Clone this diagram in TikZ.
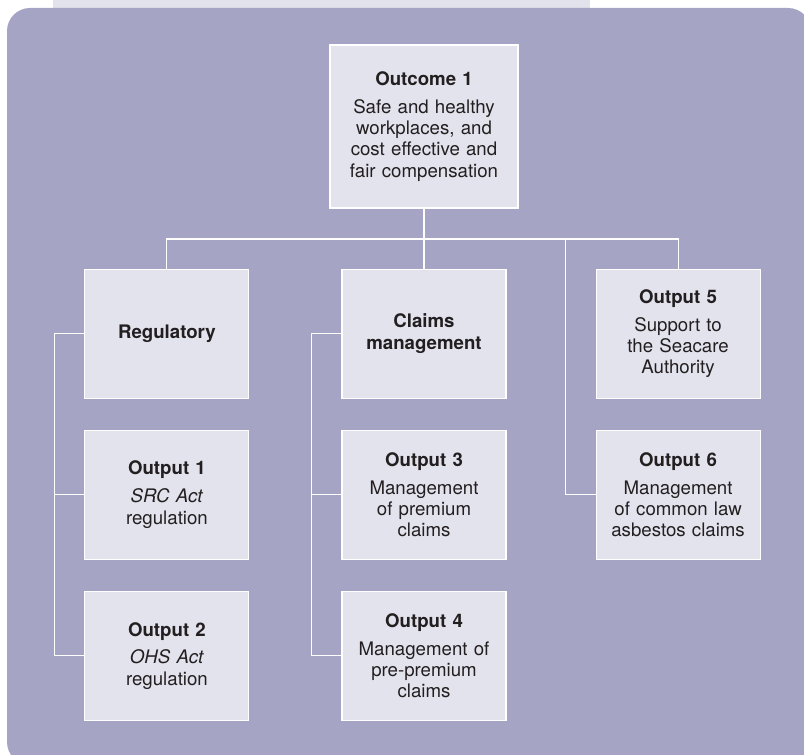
\documentclass[tikz,border=0pt]{standalone}
\usepackage{fontspec}
\setmainfont{TeX Gyre Heros}
\usetikzlibrary{positioning}
\definecolor{panel}{HTML}{A5A4C5}
\definecolor{boxfill}{HTML}{E3E3EE}
\definecolor{tabfill}{HTML}{E2E2EC}
\definecolor{ink}{HTML}{231F20}

\begin{document}
\begin{tikzpicture}[x=0.75pt,y=-0.75pt,node distance=23.25pt,
  box/.style={rectangle,fill=boxfill,draw=white,line width=0.8pt,text=ink,align=center,
    minimum width=123pt,minimum height=96.75pt,text width=119pt,inner sep=0pt,
    font=\fontsize{14}{15.9}\selectfont},
  big box/.style={box,minimum width=141pt,minimum height=122.25pt,text width=137pt}]
  \tikzset{link/.style={draw=white,line width=0.8pt}}
  \useasboundingbox (0,0) rectangle (804,755);
  % backdrop
  \fill[tabfill] (53,-5) rectangle (590,20);
  \fill[panel,rounded corners=17.25pt] (7,8) rectangle (811,765);

  \node[big box] (outcome) at (424,126.5) {\textbf{Outcome 1}\\[5pt]Safe and healthy\\workplaces, and\\cost effective and\\fair compensation};
  \node[box] (claims) [below=45pt of outcome] {\textbf{Claims}\\\textbf{management}};
  \node[box] (reg) [left=69pt of claims] {\textbf{Regulatory}};
  \node[box] (out5) [right=66.75pt of claims] {\textbf{Output 5}\\[5pt]Support to\\the Seacare\\Authority};
  \node[box] (out1) [below=of reg] {\textbf{Output 1}\\[5pt]\textit{SRC Act}\\regulation};
  \node[box] (out2) [below=of out1] {\textbf{Output 2}\\[5pt]\textit{OHS Act}\\regulation};
  \node[box] (out3) [below=of claims] {\textbf{Output 3}\\[5pt]Management\\of premium\\claims};
  \node[box] (out4) [below=of out3] {\textbf{Output 4}\\[5pt]Management of\\pre-premium\\claims};
  \node[box] (out6) [below=of out5] {\textbf{Output 6}\\[5pt]Management\\of common law\\asbestos claims};

  \coordinate (bar) at (424,239);
  \path[link] (outcome) -- (claims)
    (reg) |- (bar) -| (out5)
    (reg.west) -- ++(-30,0) |- (out2.west)
    (out1.west) -- ++(-30,0)
    (claims.west) -- ++(-30,0) |- (out4.west)
    (out3.west) -- ++(-30,0)
    (out6.west) -- ++(-30,0) |- (bar);
\end{tikzpicture}
\end{document}
